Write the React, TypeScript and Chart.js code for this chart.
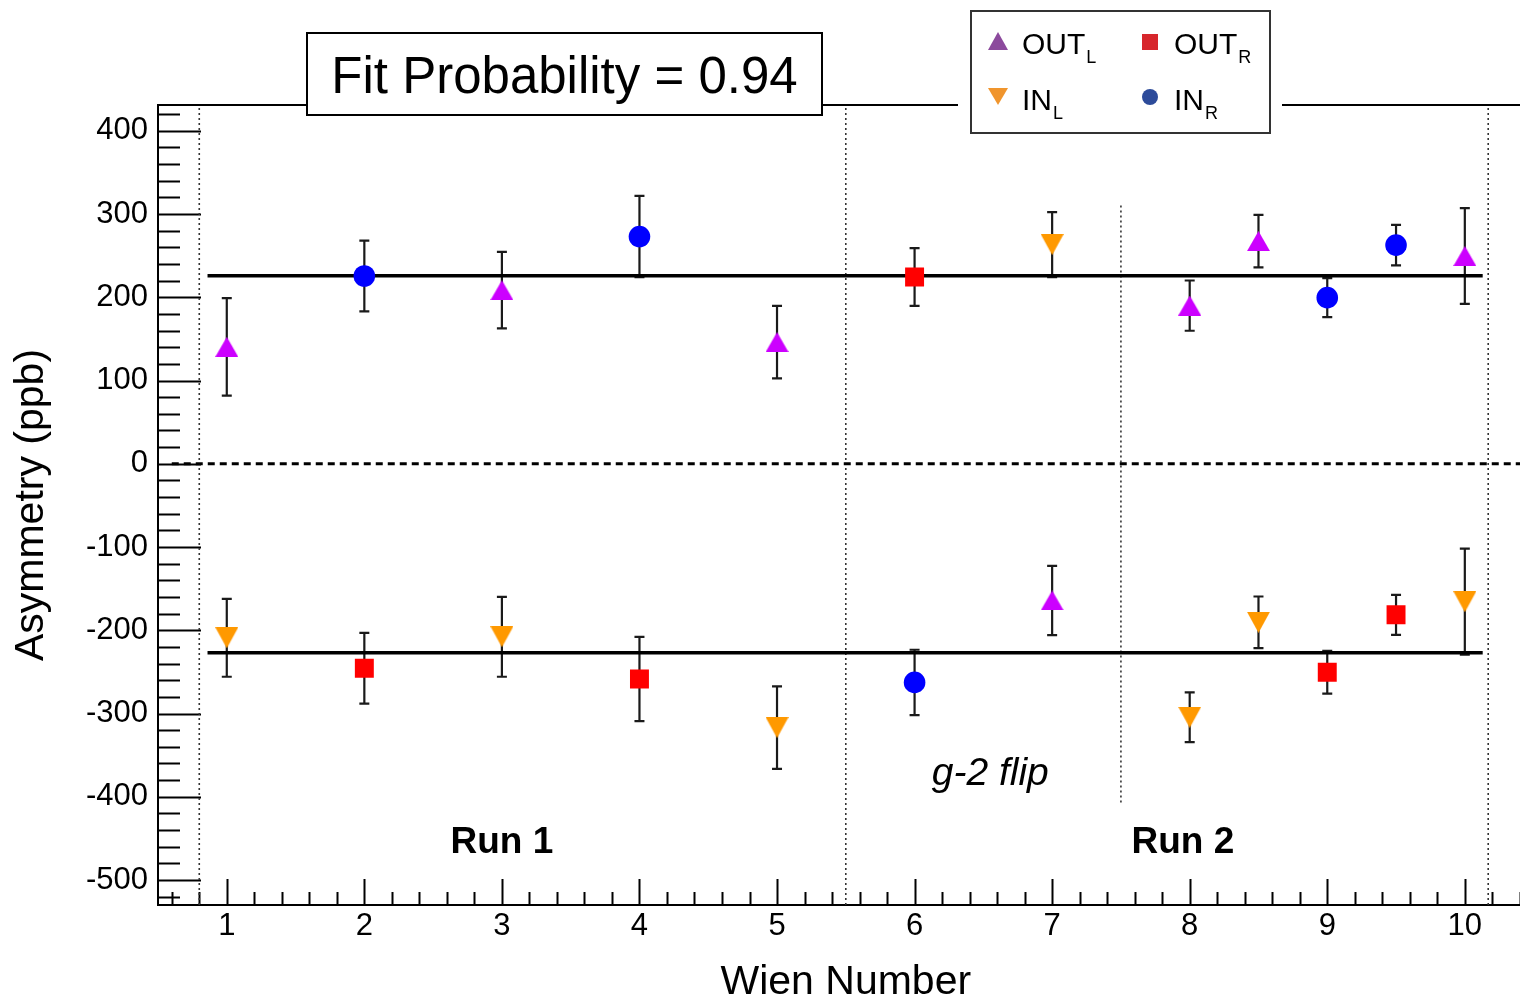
import React, { useEffect, useRef } from "react";
import { Chart, registerables } from "chart.js";

Chart.register(...registerables);

const FONT = '"Liberation Sans", Arial, Helvetica, sans-serif';

// Axis ticks
const xTickValues = [1, 2, 3, 4, 5, 6, 7, 8, 9, 10];
const yTickValues = [-500, -400, -300, -200, -100, 0, 100, 200, 300, 400];
const xRange = [0.5, 10.5];
const yRange = [-530, 431];

// OUT_L (up triangle)
const outLX = [1, 3, 5, 7, 8, 8.5, 10];
const outLY = [140.5, 208.6, 146.2, -164.2, 190.0, 267.5, 249.6];
const outLErr = [58.5, 46.0, 43.6, 41.6, 30.2, 31.6, 57.5];

// IN_L (down triangle)
const inLX = [1, 3, 5, 7, 8, 8.5, 10];
const inLY = [-209.0, -207.8, -316.9, 263.3, -304.5, -190.4, -165.7];
const inLErr = [46.8, 48.0, 49.5, 39.0, 29.8, 31.0, 63.7];

// OUT_R (square)
const outRX = [2, 4, 6, 9, 9.5];
const outRY = [-245.6, -258.5, 224.4, -250.4, -181.4];
const outRErr = [42.6, 50.7, 34.6, 25.8, 24.0];

// IN_R (circle)
const inRX = [2, 4, 6, 9, 9.5];
const inRY = [225.6, 273.0, -262.6, 199.6, 262.7];
const inRErr = [42.6, 48.9, 39.2, 23.4, 24.4];

// Fit lines
const fitX = [0.86, 10.13];
const fitUpper = 226;
const fitLower = -227;

// Zero line
const zeroX = [0.6, 10.5];

// Dividers
const dividerX = [0.8, 5.5, 10.17];
const flipX = 7.5;
const flipRange = [-407, 313];

// Annotations
const runLabels = [
  { text: "Run 1", x: 3, y: -455 },
  { text: "Run 2", x: 7.95, y: -455 },
];
const flipLabel = { text: "g-2 flip", x: 6.55, y: -373 };
const fitText = "Fit Probability = 0.94";

const pts = (xs: number[], ys: number[]) => xs.map((x, i) => ({ x, y: ys[i] }));

function makeTriangle(color: string, down: boolean, w: number, h: number) {
  const c = document.createElement("canvas");
  c.width = w;
  c.height = h;
  const ctx = c.getContext("2d")!;
  ctx.fillStyle = color;
  ctx.beginPath();
  if (!down) {
    ctx.moveTo(w / 2, 0);
    ctx.lineTo(w, h);
    ctx.lineTo(0, h);
  } else {
    ctx.moveTo(0, 0);
    ctx.lineTo(w, 0);
    ctx.lineTo(w / 2, h);
  }
  ctx.closePath();
  ctx.fill();
  return c;
}

const framePlugin = {
  id: "rootFrame",
  beforeDatasetsDraw(chart: any) {
    const { ctx, chartArea, scales } = chart;
    const { left, right, top, bottom } = chartArea;
    const x = scales.x;
    const y = scales.y;
    ctx.save();
    ctx.strokeStyle = "#000";
    ctx.lineWidth = 2;
    ctx.beginPath();
    ctx.moveTo(left, top);
    ctx.lineTo(right, top);
    ctx.lineTo(right, bottom);
    ctx.lineTo(left, bottom);
    ctx.closePath();
    ctx.stroke();
    // y ticks (inward)
    ctx.beginPath();
    for (let i = -26; i <= 21; i++) {
      const v = i * 20;
      const py = Math.round(y.getPixelForValue(v)) + 0.5;
      if (py < top || py > bottom) continue;
      const major = v % 100 === 0;
      ctx.moveTo(left, py);
      ctx.lineTo(left + (major ? 43 : 22), py);
    }
    // x ticks (inward)
    for (let i = 3; i <= 52; i++) {
      const v = i / 5;
      const px = Math.round(x.getPixelForValue(v)) + 0.5;
      if (px < left || px > right) continue;
      const major = i % 5 === 0;
      ctx.moveTo(px, bottom);
      ctx.lineTo(px, bottom - (major ? 26 : 13));
    }
    ctx.stroke();
    ctx.restore();
  },
};

const errorBarPlugin = {
  id: "errorBars",
  beforeDatasetsDraw(chart: any) {
    const { ctx, scales } = chart;
    const x = scales.x;
    const y = scales.y;
    ctx.save();
    ctx.strokeStyle = "#1a1a1a";
    ctx.lineWidth = 2.2;
    chart.data.datasets.forEach((ds: any) => {
      if (!ds.errors) return;
      ds.data.forEach((p: any, i: number) => {
        const px = x.getPixelForValue(p.x);
        const t = y.getPixelForValue(p.y + ds.errors[i]);
        const b = y.getPixelForValue(p.y - ds.errors[i]);
        ctx.beginPath();
        ctx.moveTo(px, t);
        ctx.lineTo(px, b);
        ctx.moveTo(px - 5, t);
        ctx.lineTo(px + 5, t);
        ctx.moveTo(px - 5, b);
        ctx.lineTo(px + 5, b);
        ctx.stroke();
      });
    });
    ctx.restore();
  },
};

const annotationPlugin = {
  id: "annotations",
  afterDatasetsDraw(chart: any) {
    const { ctx, scales } = chart;
    const x = scales.x;
    const y = scales.y;
    ctx.save();
    ctx.fillStyle = "#000";
    ctx.textAlign = "center";
    ctx.textBaseline = "middle";
    ctx.font = `bold 37px ${FONT}`;
    runLabels.forEach((r) => {
      ctx.fillText(r.text, x.getPixelForValue(r.x), y.getPixelForValue(r.y));
    });
    ctx.font = `italic 39px ${FONT}`;
    ctx.fillText(flipLabel.text, x.getPixelForValue(flipLabel.x), y.getPixelForValue(flipLabel.y));
    ctx.restore();
  },
  afterDraw(chart: any) {
    const { ctx } = chart;
    ctx.save();
    // Fit probability box
    ctx.fillStyle = "#fff";
    ctx.fillRect(307, 33, 515, 82);
    ctx.strokeStyle = "#000";
    ctx.lineWidth = 2;
    ctx.strokeRect(307, 33, 515, 82);
    ctx.fillStyle = "#000";
    ctx.font = `51px ${FONT}`;
    ctx.textAlign = "center";
    ctx.textBaseline = "alphabetic";
    ctx.fillText(fitText, 564.5, 93);

    // Legend box
    ctx.fillStyle = "#fff";
    ctx.fillRect(958, 96, 324, 16);
    ctx.fillRect(971, 11, 299, 122);
    ctx.strokeStyle = "#333";
    ctx.lineWidth = 2;
    ctx.strokeRect(971, 11, 299, 122);

    // markers
    ctx.fillStyle = "#8c4a9d";
    ctx.beginPath();
    ctx.moveTo(998, 32);
    ctx.lineTo(1008, 50);
    ctx.lineTo(988, 50);
    ctx.closePath();
    ctx.fill();
    ctx.fillStyle = "#d7262c";
    ctx.fillRect(1142, 34, 16, 16);
    ctx.fillStyle = "#f0952d";
    ctx.beginPath();
    ctx.moveTo(988, 88);
    ctx.lineTo(1008, 88);
    ctx.lineTo(998, 105);
    ctx.closePath();
    ctx.fill();
    ctx.fillStyle = "#2d4b9a";
    ctx.beginPath();
    ctx.arc(1150, 97, 8, 0, Math.PI * 2);
    ctx.fill();

    // text
    ctx.fillStyle = "#000";
    ctx.textAlign = "left";
    const entry = (main: string, sub: string, px: number, py: number) => {
      ctx.font = `30px ${FONT}`;
      ctx.fillText(main, px, py);
      const w = ctx.measureText(main).width;
      ctx.font = `18px ${FONT}`;
      ctx.fillText(sub, px + w + 1, py + 9);
    };
    entry("OUT", "L", 1022, 54);
    entry("OUT", "R", 1174, 54);
    entry("IN", "L", 1022, 110);
    entry("IN", "R", 1174, 110);
    ctx.restore();
  },
};

export default function App() {
  const ref = useRef<HTMLCanvasElement>(null);

  useEffect(() => {
    const upTri = makeTriangle("#cc00ff", false, 23, 20);
    const downTri = makeTriangle("#ff9900", true, 23, 21);

    const vline = (xv: number, y0: number, y1: number) => ({
      type: "scatter" as const,
      data: [
        { x: xv, y: y0 },
        { x: xv, y: y1 },
      ],
      showLine: true,
      borderColor: "#333",
      borderWidth: 1.6,
      borderDash: [2, 3],
      pointRadius: 0,
      order: 3,
    });

    const chart = new Chart(ref.current!, {
      type: "scatter",
      data: {
        datasets: [
          {
            label: "OUT_L",
            data: pts(outLX, outLY),
            errors: outLErr,
            pointStyle: upTri,
            pointRadius: 11,
            order: 0,
          } as any,
          {
            label: "IN_L",
            data: pts(inLX, inLY),
            errors: inLErr,
            pointStyle: downTri,
            pointRadius: 11,
            order: 0,
          } as any,
          {
            label: "OUT_R",
            data: pts(outRX, outRY),
            errors: outRErr,
            pointStyle: "rect",
            pointRadius: 13.4,
            backgroundColor: "#ff0000",
            borderWidth: 0,
            order: 0,
          } as any,
          {
            label: "IN_R",
            data: pts(inRX, inRY),
            errors: inRErr,
            pointStyle: "circle",
            pointRadius: 10.8,
            backgroundColor: "#0000ff",
            borderWidth: 0,
            order: 0,
          } as any,
          {
            label: "fitUpper",
            data: fitX.map((x) => ({ x, y: fitUpper })),
            showLine: true,
            borderColor: "#000",
            borderWidth: 3.5,
            pointRadius: 0,
            order: 1,
          },
          {
            label: "fitLower",
            data: fitX.map((x) => ({ x, y: fitLower })),
            showLine: true,
            borderColor: "#000",
            borderWidth: 3.5,
            pointRadius: 0,
            order: 1,
          },
          {
            label: "zero",
            data: zeroX.map((x) => ({ x, y: 0 })),
            showLine: true,
            borderColor: "#000",
            borderWidth: 3,
            borderDash: [7, 5],
            pointRadius: 0,
            order: 2,
          },
          ...dividerX.map((xv) => vline(xv, yRange[0], yRange[1])),
          vline(flipX, flipRange[0], flipRange[1]),
        ],
      },
      options: {
        animation: false,
        responsive: false,
        devicePixelRatio: 1,
        layout: { padding: { top: 105, left: 0, right: 6, bottom: 0 } },
        plugins: {
          legend: { display: false },
          tooltip: { enabled: false },
        },
        scales: {
          x: {
            type: "linear",
            min: xRange[0],
            max: xRange[1],
            afterBuildTicks: (s: any) => {
              s.ticks = xTickValues.map((v) => ({ value: v }));
            },
            afterFit: (s: any) => {
              s.height = 92;
            },
            grid: { display: false, drawTicks: false, tickLength: 0 },
            border: { display: false },
            ticks: {
              color: "#000",
              font: { family: FONT, size: 31 },
              padding: 3,
              maxRotation: 0,
              autoSkip: false,
              callback: (v: any) => String(v),
            },
            title: {
              display: true,
              text: "Wien Number",
              color: "#000",
              font: { family: FONT, size: 41, lineHeight: 0.7 },
              padding: 0,
            },
          },
          y: {
            type: "linear",
            min: yRange[0],
            max: yRange[1],
            afterBuildTicks: (s: any) => {
              s.ticks = yTickValues.map((v) => ({ value: v }));
            },
            afterFit: (s: any) => {
              s.width = 158;
            },
            grid: { display: false, drawTicks: false, tickLength: 0 },
            border: { display: false },
            ticks: {
              color: "#000",
              font: { family: FONT, size: 31 },
              padding: 10,
              autoSkip: false,
              callback: (v: any) => String(v),
            },
            title: {
              display: true,
              text: "Asymmetry (ppb)",
              color: "#000",
              font: { family: FONT, size: 41, lineHeight: 1.56 },
              padding: 0,
            },
          },
        },
      },
      plugins: [framePlugin, errorBarPlugin, annotationPlugin],
    } as any);

    return () => chart.destroy();
  }, []);

  return (
    <div
      style={{
        position: "fixed",
        left: 0,
        top: 0,
        width: 1520,
        height: 997,
        overflow: "hidden",
        background: "#fff",
      }}
    >
      <canvas ref={ref} width={1547} height={997} style={{ display: "block" }} />
    </div>
  );
}
